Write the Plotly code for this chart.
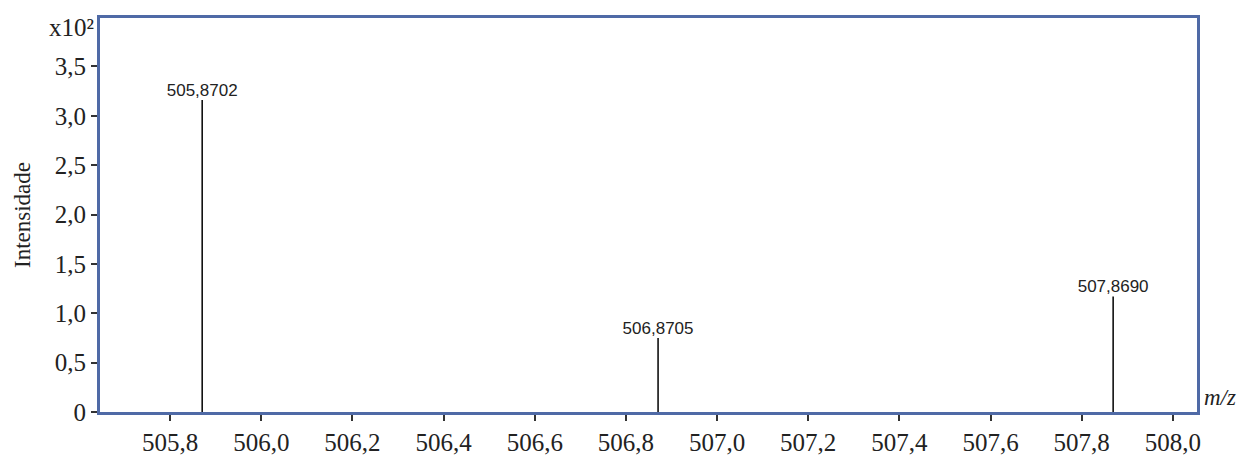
import plotly.graph_objects as go

peak_mz = [505.8702, 506.8705, 507.8690]
peak_int = [3.16, 0.75, 1.17]
peak_labels = ["505,8702", "506,8705", "507,8690"]

x_ticks = [505.8, 506.0, 506.2, 506.4, 506.6, 506.8, 507.0, 507.2, 507.4, 507.6, 507.8, 508.0]
x_ticktext = ["505,8", "506,0", "506,2", "506,4", "506,6", "506,8", "507,0", "507,2", "507,4", "507,6", "507,8", "508,0"]
y_ticks = [0, 0.5, 1.0, 1.5, 2.0, 2.5, 3.0, 3.5]
y_ticktext = ["0", "0,5", "1,0", "1,5", "2,0", "2,5", "3,0", "3,5"]

xs, ys = [], []
for m, h in zip(peak_mz, peak_int):
    xs += [m, m, None]
    ys += [0, h, None]

fig = go.Figure()
fig.add_trace(go.Scatter(x=xs, y=ys, mode="lines",
                         line=dict(color="black", width=1.5),
                         hoverinfo="skip", showlegend=False))
fig.add_trace(go.Scatter(x=peak_mz, y=peak_int, mode="text", text=peak_labels,
                         textposition="top center",
                         textfont=dict(family="Liberation Sans, Arial", size=17, color="#222"),
                         showlegend=False))

frame_color = "#4f6aa6"
fig.update_layout(
    width=1246, height=457,
    margin=dict(l=100, r=49, t=18, b=45),
    paper_bgcolor="white", plot_bgcolor="white",
    font=dict(family="Liberation Serif, Times New Roman", size=25, color="#222"),
    xaxis=dict(range=[505.646, 508.053], tickvals=x_ticks, ticktext=x_ticktext,
               showgrid=False, zeroline=False, showline=True, mirror=True,
               linecolor=frame_color, linewidth=3, ticks="outside", ticklen=6,
               tickcolor="#333", tickwidth=1.5, automargin=False),
    yaxis=dict(range=[0, 3.99], tickvals=y_ticks, ticktext=y_ticktext,
               showgrid=False, zeroline=False, showline=True, mirror=True,
               linecolor=frame_color, linewidth=3, ticks="outside", ticklen=6,
               tickcolor="#333", tickwidth=1.5, automargin=False,
               title=dict(text="Intensidade", font=dict(size=23), standoff=18)),
    annotations=[
        dict(text="x10²", xref="paper", yref="paper", x=-0.004, y=1.015,
             xanchor="right", yanchor="top", showarrow=False,
             font=dict(family="Liberation Serif", size=25, color="#222")),
        dict(text="<i>m/z</i>", xref="paper", yref="paper", x=1.005, y=0.0,
             xanchor="left", yanchor="bottom", showarrow=False,
             font=dict(family="Liberation Serif", size=23, color="#222")),
    ],
)

fig.write_html("out.html")
